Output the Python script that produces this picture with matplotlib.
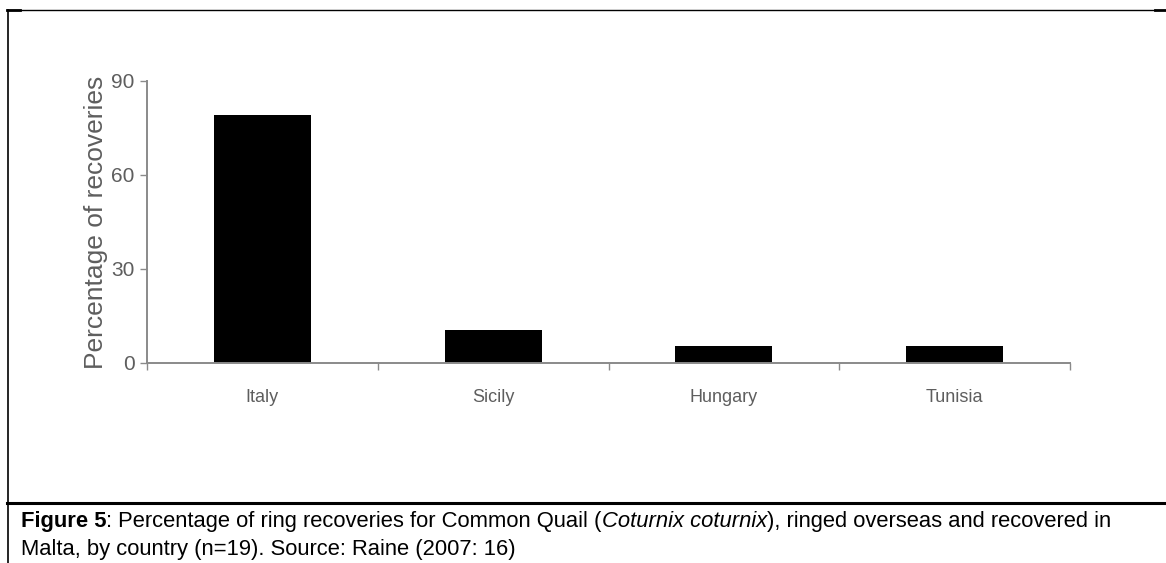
import numpy as np
import matplotlib.pyplot as plt
from matplotlib.lines import Line2D

# data
countries = ['Italy', 'Sicily', 'Hungary', 'Tunisia']
percent = [79, 10.5, 5.3, 5.3]
yticks = [0, 30, 60, 90]

W, H = 1166, 563
fig = plt.figure(figsize=(W / 100, H / 100), dpi=100)
fig.patch.set_facecolor('white')

font = 'Liberation Sans'
grey = '#5e5e5e'

# axes placed in pixel coords from the reference
x0, x1 = 147, 1070
y0, y1 = 363, 81
ax = fig.add_axes([x0 / W, 1 - y0 / H, (x1 - x0) / W, (y0 - y1) / H])

x = np.arange(len(countries))
ax.bar(x, percent, width=0.42, color='black')

ax.set_xlim(-0.5, len(countries) - 0.5)
ax.set_ylim(0, 90)
ax.set_yticks(yticks)
ax.set_yticklabels([str(t) for t in yticks], fontfamily=font, fontsize=15, color=grey)
ax.set_xticks(np.arange(len(countries) + 1) - 0.5)
ax.set_xticklabels([])
ax.set_xticks(x, minor=True)
ax.set_xticklabels(countries, minor=True, fontfamily=font, fontsize=13, color=grey)
ax.tick_params(axis='x', which='minor', length=0, pad=19)
ax.tick_params(axis='x', which='major', length=5, color='#8a8a8a', width=1)
ax.tick_params(axis='y', length=5, color='#8a8a8a', width=1, pad=4)

for s in ['top', 'right']:
    ax.spines[s].set_visible(False)
for s in ['left', 'bottom']:
    ax.spines[s].set_color('#8a8a8a')
    ax.spines[s].set_linewidth(1.4)

ax.set_ylabel('Percentage of recoveries', fontfamily=font, fontsize=19, color=grey, labelpad=2)

# frame around figure and caption
def hline(y, xa, xb, lw):
    fig.add_artist(Line2D([xa / W, xb / W], [1 - y / H, 1 - y / H], color='black', lw=lw))

hline(10, 7, 1155, 1.0)
hline(10, 7, 20, 2.0)
hline(10, 1155, 1166, 2.0)
hline(503, 7, 1166, 2.2)
fig.add_artist(Line2D([7.5 / W, 7.5 / W], [1 - 10 / H, 0], color='black', lw=1.2))

# caption with bold / italic pieces
fig.canvas.draw()
renderer = fig.canvas.get_renderer()
cap_size = 15.8
cap_x = 21

def caption_line(pieces, y):
    xpos = cap_x / W
    for txt, weight, style in pieces:
        t = fig.text(xpos, 1 - y / H, txt, fontfamily=font, fontsize=cap_size,
                     fontweight=weight, fontstyle=style, va='baseline', ha='left', color='black')
        bb = t.get_window_extent(renderer=renderer)
        xpos = bb.x1 / W

caption_line([('Figure 5', 'bold', 'normal'),
              (': Percentage of ring recoveries for Common Quail (', 'normal', 'normal'),
              ('Coturnix coturnix', 'normal', 'italic'),
              ('), ringed overseas and recovered in', 'normal', 'normal')], 527)
caption_line([('Malta, by country (n=19). Source: Raine (2007: 16)', 'normal', 'normal')], 555)

fig.savefig('out.png', dpi=100)
